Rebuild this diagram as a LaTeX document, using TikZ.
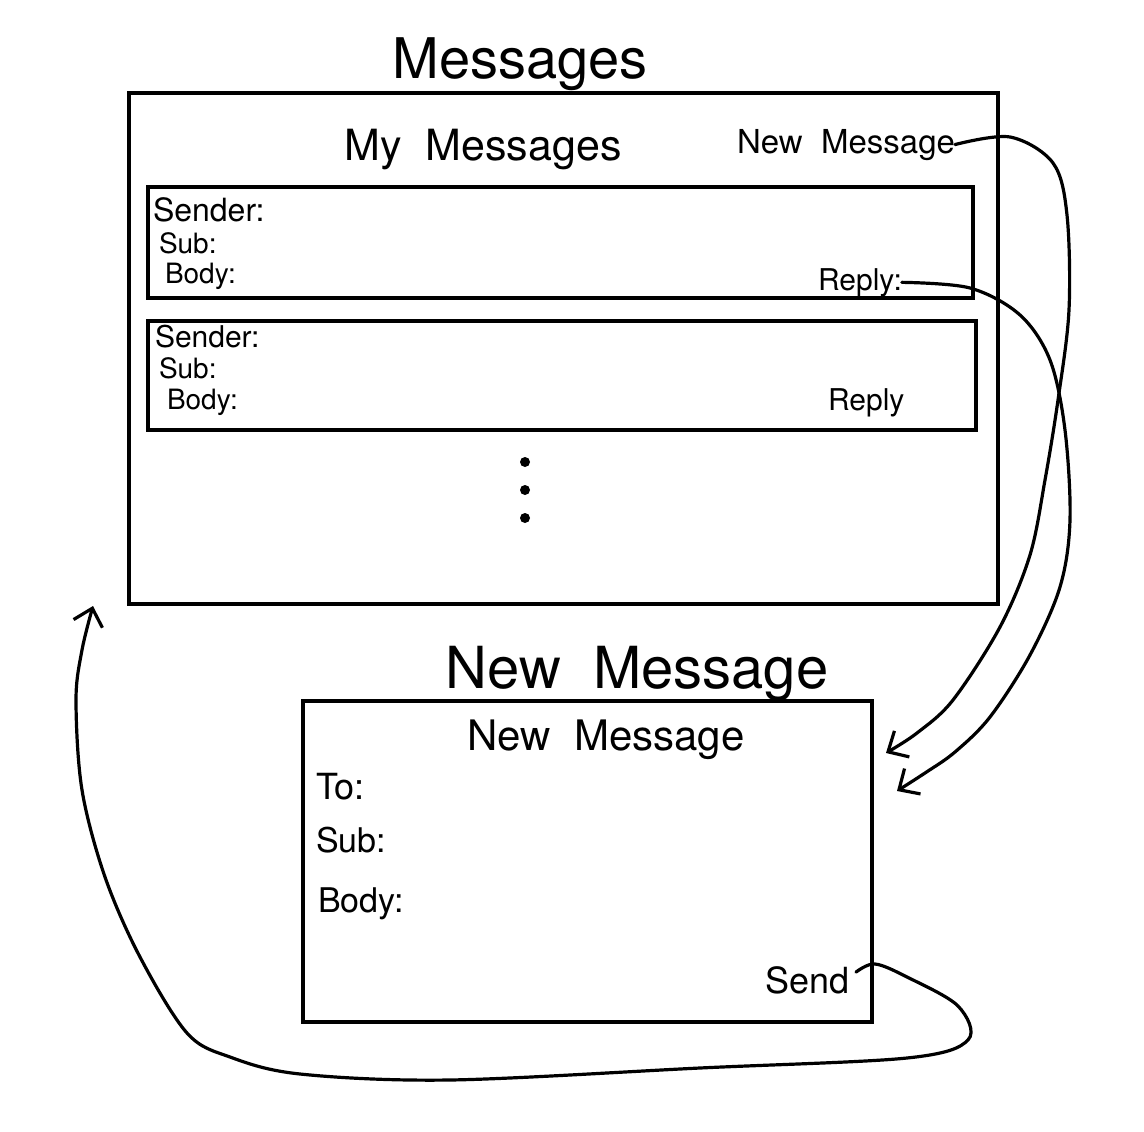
\documentclass[tikz,border=0pt]{standalone}
\usepackage{fontspec}
\setmainfont{TeX Gyre Heros}
\usetikzlibrary{arrows.meta}
\newcommand{\fsz}[1]{\fontsize{#1}{#1}\selectfont}
\begin{document}
\begin{tikzpicture}[x=1pt,y=-1pt,
  boxframe/.style={draw, line width=4pt, inner sep=0pt, outer sep=0pt},
  txt/.style={inner sep=0pt, outer sep=0pt},
  conn/.style={line width=3.2pt, line cap=round, line join=round,
    -{Straight Barb[length=16pt,width=30pt,line width=3.2pt]}},
  dot/.style={circle, fill, inner sep=0pt, minimum size=10pt}]
\useasboundingbox (0,0) rectangle (1144,1132);

% Messages page
\node[txt, anchor=base, font=\fsz{56}] (ttlA) at (520,78) {Messages};
\node[boxframe, minimum width=869pt, minimum height=511pt] (page) at (563.5,348.5) {};
\node[txt, anchor=base, font=\fsz{43}] (mymsg) at (483,160) {My\ \ Messages};
\node[txt, anchor=base east, font=\fsz{33}] (nm) at (955,153) {New\ \ Message};

\node[boxframe, minimum width=825pt, minimum height=111pt] (card1) at (560.5,242.5) {};
\node[txt, anchor=base west, font=\fsz{32}] (snd1) at (153,221) {Sender:};
\node[txt, anchor=base west, font=\fsz{28}] (sub1) at (159,253) {Sub:};
\node[txt, anchor=base west, font=\fsz{28}] (bod1) at (165,283) {Body:};
\node[txt, anchor=base west, font=\fsz{30}] (rep1) at (818,290) {Reply:};

\node[boxframe, minimum width=828pt, minimum height=109pt] (card2) at (562,375.5) {};
\node[txt, anchor=base west, font=\fsz{30}] (snd2) at (155,347) {Sender:};
\node[txt, anchor=base west, font=\fsz{28}] (sub2) at (159,378) {Sub:};
\node[txt, anchor=base west, font=\fsz{28}] (bod2) at (167,409) {Body:};
\node[txt, anchor=base west, font=\fsz{30}] (rep2) at (828,410) {Reply};

\node[dot] (d1) at (525,462) {};
\node[dot] (d2) at (525,490) {};
\node[dot] (d3) at (525,518) {};

% New Message page
\node[txt, anchor=base, font=\fsz{58}] (ttlB) at (637,688) {New\ \ Message};
\node[boxframe, minimum width=569pt, minimum height=321pt] (form) at (587.5,861.5) {};
\node[txt, anchor=base, font=\fsz{42}] (fhead) at (606,750) {New\ \ Message};
\node[txt, anchor=base west, font=\fsz{36}] (to) at (316,799) {To:};
\node[txt, anchor=base west, font=\fsz{34}] (fsub) at (316,852) {Sub:};
\node[txt, anchor=base west, font=\fsz{34}] (fbod) at (318,912) {Body:};
\node[txt, anchor=base east, font=\fsz{36}] (send) at (850,993) {Send};

% arrow end points
\coordinate (tipA) at (886,753);
\coordinate (tipB) at (897,791);
\coordinate (tipC) at (93,606);

% connectors
\draw[conn] plot[smooth, tension=0.55] coordinates {(nm.east) (1010,137) (1053,163) (1067,215) (1069,310) (1058,400) (1045,480) (1030,555) (1000,627) (953,700) (917,733) (tipA)};
\draw[conn] plot[smooth, tension=0.55] coordinates {(rep1.east) (970,288) (1020,315) (1050,360) (1065,430) (1070,520) (1060,587) (1030,655) (990,717) (955,752) (925,773) (tipB)};
\draw[conn] plot[smooth, tension=0.55] coordinates {([xshift=6pt,yshift=-6pt]send.north east) (875,964) (907,977) (958,1006) (968,1040) (907,1058) (700,1068) (450,1080) (300,1074) (230,1057) (187,1033) (140,957) (105,877) (82,790) (76,700) (82,650) (tipC)};
\end{tikzpicture}
\end{document}
